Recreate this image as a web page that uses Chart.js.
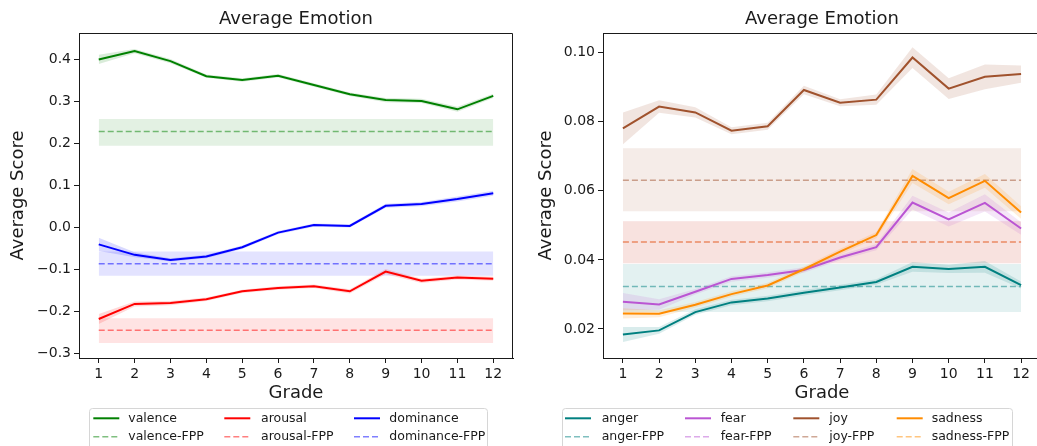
<!DOCTYPE html>
<html>
<head>
<meta charset="utf-8">
<script src="https://cdn.jsdelivr.net/npm/chart.js@4.4.1/dist/chart.umd.min.js"></script>
<style>
  html, body { margin: 0; padding: 0; background: #fff; overflow: hidden; width: 1037px; height: 446px; }
  canvas { position: absolute; top: 0; }
  #vad { left: 0; }
  #emo { left: 525px; }
</style>
</head>
<body>
<canvas id="vad" width="525" height="446"></canvas>
<canvas id="emo" width="530" height="446"></canvas>
<script>
const grades = [1, 2, 3, 4, 5, 6, 7, 8, 9, 10, 11, 12];

// valence / arousal / dominance: mean per grade and CI half-width
const valence      = [0.401, 0.421, 0.397, 0.361, 0.352, 0.362, 0.340, 0.318, 0.304, 0.302, 0.282, 0.314];
const valenceErr   = [0.011, 0.005, 0.005, 0.004, 0.004, 0.004, 0.004, 0.004, 0.005, 0.005, 0.006, 0.005];
const arousal      = [-0.218, -0.182, -0.180, -0.171, -0.152, -0.144, -0.140, -0.152, -0.105, -0.127, -0.119, -0.122];
const arousalErr   = [0.012, 0.006, 0.005, 0.004, 0.004, 0.004, 0.004, 0.005, 0.006, 0.005, 0.005, 0.005];
const dominance    = [-0.040, -0.065, -0.077, -0.069, -0.047, -0.012, 0.006, 0.004, 0.052, 0.056, 0.068, 0.082];
const dominanceErr = [0.016, 0.006, 0.004, 0.004, 0.004, 0.004, 0.004, 0.004, 0.005, 0.005, 0.006, 0.006];

// FPP reference level: [mean, lower, upper]
const valenceFPP   = [0.229, 0.195, 0.259];
const arousalFPP   = [-0.245, -0.275, -0.216];
const dominanceFPP = [-0.086, -0.115, -0.057];

const vadTicks      = [-0.3, -0.2, -0.1, 0.0, 0.1, 0.2, 0.3, 0.4];
const vadTickLabels = ['\u22120.3', '\u22120.2', '\u22120.1', '0.0', '0.1', '0.2', '0.3', '0.4'];

// discrete emotions: mean per grade and CI half-width
const anger      = [0.0184, 0.0196, 0.0249, 0.0277, 0.0288, 0.0305, 0.0320, 0.0336, 0.0380, 0.0374, 0.0380, 0.0327];
const angerErr   = [0.0022, 0.0010, 0.0008, 0.0008, 0.0008, 0.0008, 0.0008, 0.0008, 0.0014, 0.0012, 0.0017, 0.0010];
const fear       = [0.0279, 0.0271, 0.0308, 0.0345, 0.0356, 0.0371, 0.0407, 0.0437, 0.0566, 0.0517, 0.0565, 0.0491];
const fearErr    = [0.0025, 0.0015, 0.0008, 0.0008, 0.0008, 0.0008, 0.0008, 0.0009, 0.0020, 0.0020, 0.0025, 0.0018];
const joy        = [0.0781, 0.0844, 0.0827, 0.0774, 0.0787, 0.0892, 0.0855, 0.0864, 0.0986, 0.0896, 0.0930, 0.0938];
const joyErr     = [0.0046, 0.0018, 0.0015, 0.0010, 0.0010, 0.0012, 0.0010, 0.0015, 0.0030, 0.0030, 0.0036, 0.0025];
const sadness    = [0.0245, 0.0244, 0.0270, 0.0301, 0.0326, 0.0373, 0.0424, 0.0472, 0.0643, 0.0579, 0.0629, 0.0537];
const sadnessErr = [0.0015, 0.0010, 0.0008, 0.0008, 0.0008, 0.0008, 0.0008, 0.0009, 0.0020, 0.0018, 0.0020, 0.0018];

const angerFPP   = [0.0323, 0.0249, 0.0388];
const fearFPP    = [0.0452, 0.0390, 0.0512];
const joyFPP     = [0.0631, 0.0541, 0.0723];
const sadnessFPP = [0.0452, 0.0390, 0.0512];

const emoTicks      = [0.02, 0.04, 0.06, 0.08, 0.10];
const emoTickLabels = ['0.02', '0.04', '0.06', '0.08', '0.10'];

const FONT = 'DejaVu Sans';
const INK = '#1a1a1a';

const rgba = (hex, a) => {
  const n = parseInt(hex.slice(1), 16);
  return `rgba(${n >> 16}, ${(n >> 8) & 255}, ${n & 255}, ${a})`;
};
const pts = (ys) => grades.map((g, i) => ({ x: g, y: ys[i] }));
const flat = (y) => grades.map((g) => ({ x: g, y }));

const edge = { borderWidth: 0, borderColor: 'transparent', pointRadius: 0 };

// bands + reference lines first, then the per-grade lines on top
function buildDatasets(series) {
  const sets = [];
  series.forEach((s) => {
    sets.push({ ...edge, data: flat(s.fpp[2]), fill: false });
    sets.push({ ...edge, data: flat(s.fpp[1]), fill: '-1', backgroundColor: rgba(s.color, 0.11) });
    sets.push({ label: s.label + '-FPP', data: flat(s.fpp[0]), borderColor: rgba(s.color, 0.5),
      borderWidth: 1.5, borderDash: [6, 3], pointRadius: 0, fill: false });
  });
  series.forEach((s) => {
    sets.push({ ...edge, data: pts(s.mean.map((m, i) => m + s.err[i])), fill: false });
    sets.push({ ...edge, data: pts(s.mean.map((m, i) => m - s.err[i])), fill: '-1', backgroundColor: rgba(s.color, 0.15) });
    sets.push({ label: s.label, data: pts(s.mean), borderColor: s.color, borderWidth: 2, pointRadius: 0, fill: false });
  });
  // later datasets on top
  sets.forEach((d, i) => { d.order = -i; d.tension = 0; });
  return sets;
}

// closes the box: top and right spines
const frame = {
  id: 'frame',
  afterDatasetsDraw(chart) {
    const { ctx, chartArea: a } = chart;
    ctx.save();
    ctx.strokeStyle = INK;
    ctx.lineWidth = 1;
    ctx.beginPath();
    ctx.moveTo(a.left, a.top + 0.5);
    ctx.lineTo(a.right - 0.5, a.top + 0.5);
    ctx.lineTo(a.right - 0.5, a.bottom);
    ctx.stroke();
    ctx.restore();
  },
};

// two-row legend below the axes, columns by series
const gridLegend = {
  id: 'gridLegend',
  afterDraw(chart, args, opts) {
    const { ctx } = chart;
    const { box, handleX, textX, rows, series } = opts;
    ctx.save();
    ctx.beginPath();
    ctx.roundRect(box[0] + 0.5, box[1] + 0.5, box[2] - box[0], 60, 3);
    ctx.fillStyle = 'rgba(255,255,255,0.8)';
    ctx.fill();
    ctx.strokeStyle = '#d6d6d6';
    ctx.lineWidth = 1;
    ctx.stroke();
    ctx.font = `12.5px "${FONT}"`;
    ctx.textBaseline = 'middle';
    series.forEach((s, c) => {
      [[s.label, s.color, []], [s.label + '-FPP', rgba(s.color, 0.5), [6, 3]]].forEach(([text, col, dash], r) => {
        const y = rows[r];
        ctx.strokeStyle = col;
        ctx.lineWidth = r ? 1.5 : 2;
        ctx.setLineDash(dash);
        ctx.beginPath();
        ctx.moveTo(handleX[c], y);
        ctx.lineTo(handleX[c] + 26, y);
        ctx.stroke();
        ctx.setLineDash([]);
        ctx.fillStyle = INK;
        ctx.fillText(text, textX[c], y + 0.5);
      });
    });
    ctx.restore();
  },
};

function makeChart(id, series, yRange, yTicks, yTickLabels, axisW, titlePad, padRight, legend) {
  const ctx = document.getElementById(id).getContext('2d');
  return new Chart(ctx, {
    type: 'line',
    data: { datasets: buildDatasets(series) },
    options: {
      responsive: false,
      animation: false,
      devicePixelRatio: 1,
      layout: { padding: { left: 0, right: padRight, top: 0, bottom: 38 } },
      plugins: {
        legend: { display: false },
        tooltip: { enabled: false },
        title: {
          display: true, text: 'Average Emotion', fullSize: false, color: INK,
          font: { family: FONT, size: 18, weight: 'normal' },
          padding: { top: 9, bottom: 2.4 },
        },
        gridLegend: legend,
      },
      scales: {
        x: {
          type: 'linear', min: 0.45, max: 12.55,
          afterBuildTicks: (s) => { s.ticks = grades.map((v) => ({ value: v })); },
          afterFit: (s) => { s.height = 50; },
          ticks: { callback: (v) => String(v), color: INK, padding: 3, maxRotation: 0, autoSkip: false,
            font: { family: FONT, size: 14 } },
          grid: { drawOnChartArea: false, drawTicks: true, tickLength: 5, tickColor: INK, tickWidth: 1 },
          border: { display: true, color: INK, width: 1 },
          title: { display: true, text: 'Grade', color: INK, font: { family: FONT, size: 18 },
            padding: { top: 0, bottom: 4 } },
        },
        y: {
          type: 'linear', min: yRange[0], max: yRange[1],
          afterBuildTicks: (s) => { s.ticks = yTicks.map((v) => ({ value: v })); },
          afterFit: (s) => { s.width = axisW; },
          ticks: { callback: (v, i) => yTickLabels[i], color: INK, padding: 3,
            font: { family: FONT, size: 14 } },
          grid: { drawOnChartArea: false, drawTicks: true, tickLength: 5, tickColor: INK, tickWidth: 1 },
          border: { display: true, color: INK, width: 1 },
          title: { display: true, text: 'Average Score', color: INK, font: { family: FONT, size: 18 },
            padding: { top: titlePad, bottom: 0 } },
        },
      },
    },
    plugins: [frame, gridLegend],
  });
}

const vadSeries = [
  { label: 'valence', color: '#008000', mean: valence, err: valenceErr, fpp: valenceFPP },
  { label: 'arousal', color: '#ff0000', mean: arousal, err: arousalErr, fpp: arousalFPP },
  { label: 'dominance', color: '#0000ff', mean: dominance, err: dominanceErr, fpp: dominanceFPP },
];

const emoSeries = [
  { label: 'anger', color: '#008080', mean: anger, err: angerErr, fpp: angerFPP },
  { label: 'fear', color: '#ba55d3', mean: fear, err: fearErr, fpp: fearFPP },
  { label: 'joy', color: '#a0522d', mean: joy, err: joyErr, fpp: joyFPP },
  { label: 'sadness', color: '#ff8c00', mean: sadness, err: sadnessErr, fpp: sadnessFPP },
];

makeChart('vad', vadSeries, [-0.311, 0.464], vadTicks, vadTickLabels, 79, 7.7, 12, {
  box: [89, 408, 487], rows: [418.3, 436.7], series: vadSeries,
  handleX: [93.3, 224.3, 354], textX: [128.3, 261, 389.3],
});

makeChart('emo', emoSeries, [0.0116, 0.1057], emoTicks, emoTickLabels, 78, 11, 14, {
  box: [37, 408, 487], rows: [418.3, 436.7], series: emoSeries,
  handleX: [40, 160, 268.3, 371.7], textX: [76.7, 195.7, 304.3, 406.7],
});
</script>
</body>
</html>
